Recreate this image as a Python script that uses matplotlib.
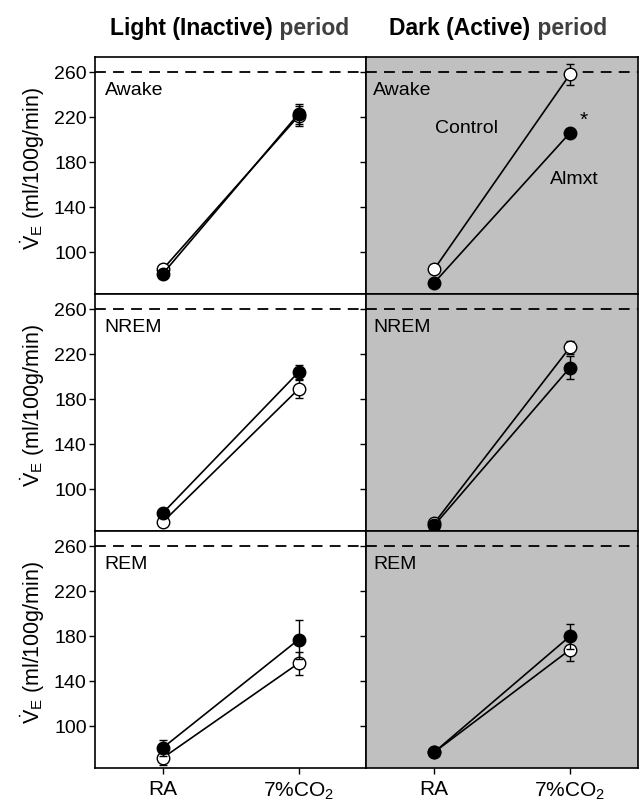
import matplotlib
matplotlib.use("Agg")
import matplotlib.pyplot as plt
import numpy as np

plt.rcParams['font.family'] = ['Liberation Sans', 'DejaVu Sans']
plt.rcParams['mathtext.fontset'] = 'custom'
plt.rcParams['mathtext.rm'] = 'Liberation Sans'
plt.rcParams['mathtext.it'] = 'Liberation Sans'

states = ["Awake", "NREM", "REM"]
periods = ["Light (Inactive)", "Dark (Active)"]
x_labels = ["RA", "7%CO$_2$"]
ref_line = 260

# [state][period] -> [RA, 7%CO2]
control_mean = [[[85, 221], [85, 258]],
                [[71, 189], [70, 226]],
                [[72, 156], [77, 168]]]
control_err = [[[2, 9], [2, 9]],
               [[3, 8], [2, 6]],
               [[6, 10], [2, 10]]]
almxt_mean = [[[81, 223], [73, 206]],
              [[79, 204], [68, 208]],
              [[81, 177], [77, 180]]]
almxt_err = [[[2, 9], [2, 2]],
             [[2, 6], [2, 10]],
             [[7, 17], [2, 11]]]

fig, axes = plt.subplots(3, 2, figsize=(6.39, 8.02), dpi=100)
fig.subplots_adjust(left=0.1487, right=0.998, top=0.929, bottom=0.0424,
                    hspace=0, wspace=0)

x = np.arange(2)
for i in range(3):
    for j in range(2):
        ax = axes[i, j]
        if j == 1:
            ax.set_facecolor("#c0c0c0")
        ax.axhline(ref_line, color="black", lw=1.3, dashes=(6, 4), zorder=1)
        ax.errorbar(x, control_mean[i][j], yerr=control_err[i][j], color="black",
                    lw=1.2, marker="o", ms=9, mfc="white", mec="black", mew=1.0,
                    capsize=3, elinewidth=1.0, capthick=1.0, zorder=3)
        ax.errorbar(x, almxt_mean[i][j], yerr=almxt_err[i][j], color="black",
                    lw=1.2, marker="o", ms=9, mfc="black", mec="black", mew=1.0,
                    capsize=3, elinewidth=1.0, capthick=1.0, zorder=4)
        ax.set_xlim(-0.5, 1.5)
        ax.set_ylim(63, 273.5)
        ax.set_xticks(x)
        ax.set_yticks([100, 140, 180, 220, 260])
        ax.tick_params(direction="out", length=4, width=1.0)
        ax.tick_params(axis="y", labelsize=14, pad=2)
        ax.tick_params(axis="x", labelsize=15, pad=5)
        for s in ax.spines.values():
            s.set_linewidth(1.2)
        if i == 2:
            ax.set_xticklabels(x_labels)
        else:
            ax.set_xticklabels([])
        if j == 0:
            ax.set_ylabel(r"$\dot{\mathrm{V}}_{\mathrm{E}}$ (ml/100g/min)", fontsize=15.5)
        else:
            ax.set_yticklabels([])
        ax.text(0.035 if j == 0 else 0.026, 0.86, states[i], transform=ax.transAxes,
                ha="left", va="center", fontsize=14)
    axes[i, 0].yaxis.set_label_coords(-0.178, 0.53)

# labels in the dark awake panel
axes[0, 1].text(0.237, 210, "Control", ha="center", va="center", fontsize=14)
axes[0, 1].text(1.03, 165, "Almxt", ha="center", va="center", fontsize=14)
axes[0, 1].text(1.1, 217, "*", ha="center", va="center", fontsize=15)

# column titles: first part black, "period" in dark gray
for j, ax in enumerate(axes[0]):
    cx = 0.525 if j == 0 else 0.515
    t1 = ax.text(cx - 0.17, 1.12, periods[j], transform=ax.transAxes, ha="center",
                 va="center", fontsize=16.5, fontweight="bold", color="black")
    ax.annotate(" period", xy=(1, 0.5), xycoords=t1, ha="left", va="center",
                fontsize=16.5, fontweight="bold", color="#404040")

fig.savefig("out.png", dpi=100)
